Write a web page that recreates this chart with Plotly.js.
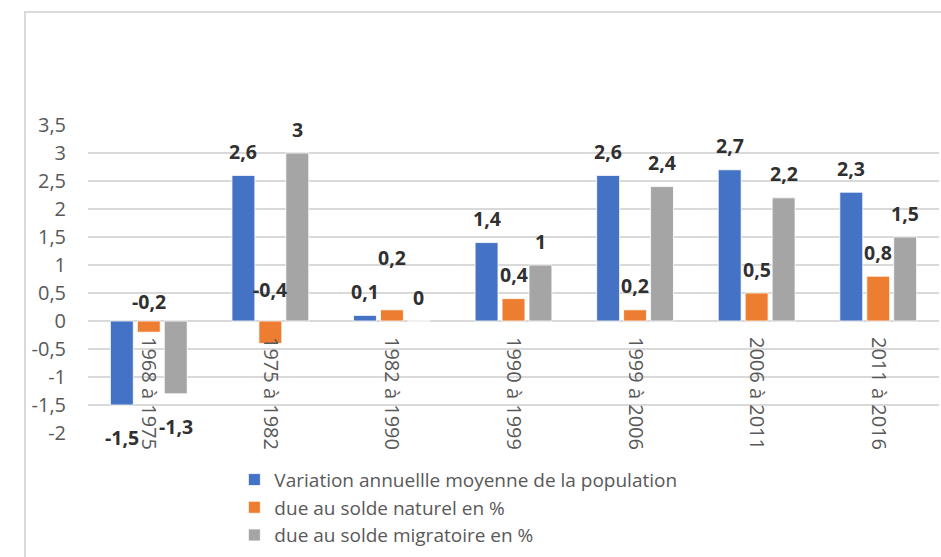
<!DOCTYPE html>
<html>
<head>
<meta charset="utf-8">
<script src="https://cdn.plot.ly/plotly-3.0.1.min.js"></script>
<style>
  html, body { margin: 0; padding: 0; background: #fff; }
  #wrap { position: relative; width: 941px; height: 557px; overflow: hidden; }
  #chart { position: absolute; left: 0; top: 0; width: 941px; height: 557px; }
  #frame { position: absolute; left: 24px; top: 11px; width: 940px; height: 560px;
           border-left: 2px solid #d9d9d9; border-top: 2px solid #d9d9d9; pointer-events: none; }
</style>
</head>
<body>
<div id="wrap"><div id="chart"></div><div id="frame"></div></div>
<script>
// ---- data ----
const categories = ["1968 à 1975", "1975 à 1982", "1982 à 1990", "1990 à 1999", "1999 à 2006", "2006 à 2011", "2011 à 2016"];
const seriesNames = ["Variation annuellle moyenne de la population", "due au solde naturel en %", "due au solde migratoire en %"];
const variation = [-1.5, 2.6, 0.1, 1.4, 2.6, 2.7, 2.3];
const soldeNaturel = [-0.2, -0.4, 0.2, 0.4, 0.2, 0.5, 0.8];
const soldeMigratoire = [-1.3, 3, 0, 1, 2.4, 2.2, 1.5];
const yTickVals = [-2, -1.5, -1, -0.5, 0, 0.5, 1, 1.5, 2, 2.5, 3, 3.5];
const yTickText = ["-2", "-1,5", "-1", "-0,5", "0", "0,5", "1", "1,5", "2", "2,5", "3", "3,5"];

// ---- style ----
const colors = ["#4472C4", "#ED7D31", "#A5A5A5"];
const FONT = "Open Sans, sans-serif";
const slotPx = 27;             // horizontal distance between bars of a group
const shiftUp = 24, shiftDown = -32;
// manual label placements (as in the original chart): [series, index] -> {base, shift}
const labelOverrides = { "1,0": {base: 0, shift: 20}, "1,1": {base: 0, shift: 32}, "1,2": {shift: 52}, "2,0": {shift: -33} };

const allSeries = [variation, soldeNaturel, soldeMigratoire];
const fmt = v => String(v).replace(".", ",");

const traces = allSeries.map((vals, s) => ({
  type: "bar",
  name: seriesNames[s],
  x: categories,
  y: vals,
  marker: { color: colors[s], line: { color: "#ffffff", width: 0.8 } },
  legendgroup: "g" + s,
  hoverinfo: "x+y"
}));

const annotations = [];
allSeries.forEach((vals, s) => {
  vals.forEach((v, i) => {
    const ov = labelOverrides[s + "," + i] || {};
    const base = ov.base !== undefined ? ov.base : v;
    const shift = ov.shift !== undefined ? ov.shift : (v < 0 ? shiftDown : shiftUp);
    annotations.push({
      x: categories[i], xref: "x", y: base, yref: "y",
      xshift: (s - 1) * slotPx, yshift: shift,
      text: fmt(v), showarrow: false,
      xanchor: "center", yanchor: "middle",
      font: { family: FONT, size: 19.5, color: "#303030", weight: "bold" }
    });
  });
});

const layout = {
  width: 941, height: 557,
  margin: { l: 88, r: 2, t: 125, b: 124 },
  paper_bgcolor: "#ffffff", plot_bgcolor: "#ffffff",
  barmode: "group", bargap: 0.335, bargroupgap: 0.15,
  separators: ", ",
  font: { family: FONT, size: 19, color: "#595959" },
  showlegend: true,
  legend: {
    orientation: "v", x: 0.172, xanchor: "left", y: -0.09, yanchor: "top",
    font: { family: FONT, size: 19, color: "#595959" },
    tracegroupgap: 0, itemwidth: 30, bgcolor: "rgba(0,0,0,0)"
  },
  xaxis: {
    type: "category", anchor: "free", position: 2 / 5.5,
    tickangle: 90, showgrid: false, showline: false, ticks: "",
    ticklabelstandoff: 15,
    tickfont: { family: FONT, size: 20, color: "#595959" },
    range: [-0.5, 6.5], fixedrange: true
  },
  yaxis: {
    range: [-2, 3.5], tickvals: yTickVals, ticktext: yTickText,
    showgrid: true, gridcolor: "#d9d9d9", gridwidth: 1.3,
    zeroline: true, zerolinecolor: "#d9d9d9", zerolinewidth: 1.3,
    showline: false, ticks: "", ticklabelstandoff: 21,
    tickfont: { family: FONT, size: 20, color: "#595959" },
    fixedrange: true
  },
  annotations: annotations
};

Plotly.newPlot("chart", traces, layout, { displayModeBar: false, staticPlot: true });
</script>
</body>
</html>
